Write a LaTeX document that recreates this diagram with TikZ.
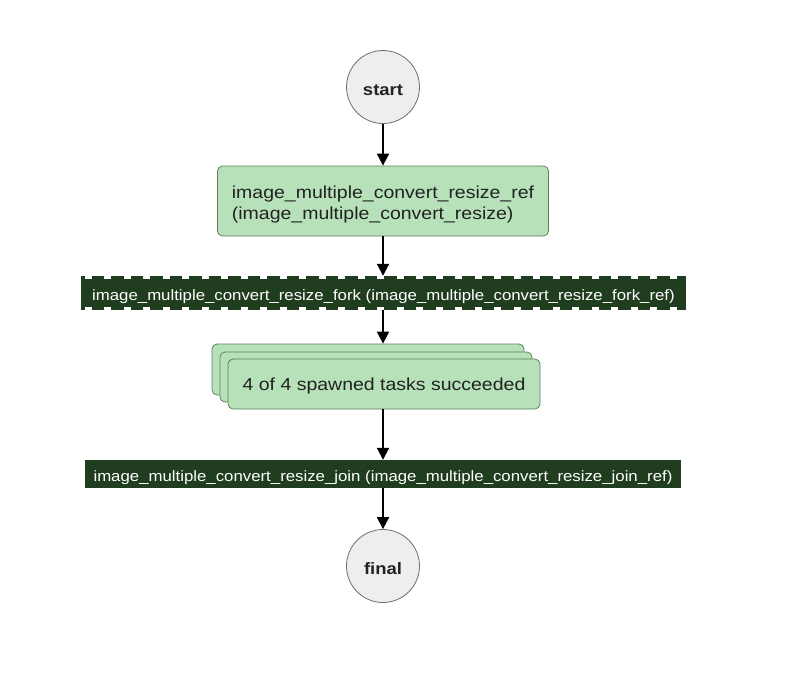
\documentclass[tikz,border=0pt]{standalone}
\usepackage{fontspec}
\setmainfont{Liberation Sans}
\newfontfamily\widefont[FakeStretch=1.12]{Liberation Sans}
\usetikzlibrary{arrows.meta}
\definecolor{barfill}{HTML}{213D20}
\definecolor{taskfill}{HTML}{B7E1B9}
\definecolor{taskdraw}{HTML}{5E7F5E}
\definecolor{circfill}{HTML}{EEEEEE}
\definecolor{circdraw}{HTML}{6E6E6E}
\definecolor{txt}{HTML}{222222}
\tikzset{
  endcirc/.style={circle, fill=circfill, draw=circdraw, line width=0.8pt, minimum size=73pt, inner sep=0pt, font=\widefont\fontsize{16.5}{20}\selectfont\bfseries, text=txt, text height=16.5pt, text depth=0pt},
  taskbox/.style={rectangle, rounded corners=5pt, fill=taskfill, draw=taskdraw, line width=0.8pt, inner sep=0pt, text=txt},
  barbox/.style={rectangle, fill=barfill, draw=none, inner sep=0pt, text=white, font=\widefont\fontsize{15}{17}\selectfont, text height=17.5pt, text depth=3pt},
  arr/.style={line width=2pt, -{Triangle[width=12pt,length=12pt]}, black},
  notch/.style={white, line width=3pt, dash pattern=on 7pt off 12.5pt}
}
\begin{document}
\begin{tikzpicture}[x=1pt,y=-1pt]
\useasboundingbox (0,0) rectangle (800,675);
\node[endcirc] (start) at (383,87) {start};
\node[taskbox, minimum width=331pt, minimum height=70pt, label={[name=reflbl, align=left, text=txt, yshift=-3.5pt, font=\widefont\fontsize{17.4}{21}\selectfont]center:image\_multiple\_convert\_resize\_ref\\(image\_multiple\_convert\_resize)}] (ref) at (383,201) {};
\node[barbox, minimum width=605pt, minimum height=34pt] (fork) at (383.5,293) {image\_multiple\_convert\_resize\_fork (image\_multiple\_convert\_resize\_fork\_ref)};
\draw[notch] ([xshift=4pt,yshift=-1.5pt]fork.north west) -- ([yshift=-1.5pt]fork.north east);
\draw[notch] ([xshift=4pt,yshift=1.5pt]fork.south west) -- ([yshift=1.5pt]fork.south east);
\node[taskbox, minimum width=312pt, minimum height=51pt] (back2) at (368,369.5) {};
\node[taskbox, minimum width=312pt, minimum height=50pt] (back1) at (376,377) {};
\node[taskbox, minimum width=312pt, minimum height=50pt, font=\widefont\fontsize{17.4}{20}\selectfont, text height=16pt, text depth=3pt] (tasks) at (384,384) {4 of 4 spawned tasks succeeded};
\node[barbox, minimum width=596pt, minimum height=28pt] (join) at (383,474) {image\_multiple\_convert\_resize\_join (image\_multiple\_convert\_resize\_join\_ref)};
\node[endcirc] (final) at (383,566) {final};
\draw[arr] (start) -- (ref);
\draw[arr] (ref) -- (ref |- fork.north);
\draw[arr] (fork.south -| ref) -- (ref |- back2.north);
\draw[arr] (tasks.south -| ref) -- (ref |- join.north);
\draw[arr] (join.south -| ref) -- (final);
\end{tikzpicture}
\end{document}
